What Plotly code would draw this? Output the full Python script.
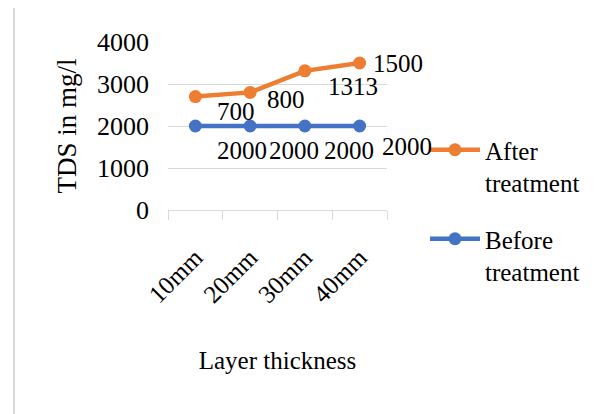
import plotly.graph_objects as go

categories = ["10mm", "20mm", "30mm", "40mm"]
before_values = [2000, 2000, 2000, 2000]
after_added = [700, 800, 1313, 1500]  # stacked on top of "before"
after_totals = [b + a for b, a in zip(before_values, after_added)]
y_ticks = [0, 1000, 2000, 3000, 4000]

ORANGE = "#ED7D31"
BLUE = "#4472C4"
FONT = "Liberation Serif"

# the page body adds an 8px offset, so figure coordinates are shifted by 8
OFF = 8
W, H = 602, 414
L, R, T, B = 168 - OFF, 215 + OFF, 42 - OFF, 204 + OFF
pw, ph = W - L - R, H - T - B

fig = go.Figure()
fig.add_trace(go.Scatter(
    x=categories, y=after_totals, name="After<br>treatment",
    mode="lines+markers", line=dict(color=ORANGE, width=4.5),
    marker=dict(size=13, color=ORANGE), legendgroup="a",
))
fig.add_trace(go.Scatter(
    x=categories, y=before_values, name="Before<br>treatment",
    mode="lines+markers", line=dict(color=BLUE, width=4.5),
    marker=dict(size=13, color=BLUE), legendgroup="b",
))

after_shift = [(41, -15), (36, -7), (48, -16), (38, 0)]
before_shift = [(47, -24), (44, -24), (44, -24), (47, -20)]
for c, y, v, (dx, dy) in zip(categories, after_totals, after_added, after_shift):
    fig.add_annotation(x=c, y=y, text=str(v), showarrow=False, xshift=dx, yshift=dy,
                       font=dict(family=FONT, size=25, color="black"))
for c, y, (dx, dy) in zip(categories, before_values, before_shift):
    fig.add_annotation(x=c, y=y, text=str(y), showarrow=False, xshift=dx, yshift=dy,
                       font=dict(family=FONT, size=25, color="black"))

# outer chart frame (Excel chart area border)
fig.add_shape(type="rect", xref="paper", yref="paper",
              x0=(14 - OFF - L) / pw, x1=(W + 20 - L) / pw,
              y0=-(H + 20 - (T + ph)) / ph, y1=(T + ph - (7 - OFF)) / ph,
              line=dict(color="#D9D9D9", width=2), layer="below")

fig.update_layout(
    width=W, height=H,
    margin=dict(l=L, r=R, t=T, b=B, pad=0, autoexpand=False),
    paper_bgcolor="white", plot_bgcolor="white",
    font=dict(family=FONT, size=25, color="black"),
    showlegend=True,
    legend=dict(x=(425 - OFF - L) / pw, y=(T + ph - (127 - OFF)) / ph,
                xanchor="left", yanchor="top",
                font=dict(family=FONT, size=25, color="black"),
                tracegroupgap=21, traceorder="grouped", valign="top",
                itemwidth=50, bgcolor="rgba(0,0,0,0)"),
    xaxis=dict(
        type="category", range=[-0.5, len(categories) - 0.5], autorange=False,
        automargin=False,
        tickson="boundaries", ticks="outside", ticklen=9,
        tickcolor="#D9D9D9", showline=True, linecolor="#D9D9D9", linewidth=1,
        showgrid=False, tickangle=-45, ticklabelstandoff=22,
        tickfont=dict(family=FONT, size=25, color="black"),
        title=dict(text="Layer thickness", font=dict(family=FONT, size=25, color="black"),
                   standoff=44),
    ),
    yaxis=dict(
        range=[0, 4000], autorange=False, automargin=False,
        tickvals=y_ticks, showgrid=True, gridcolor="#D9D9D9",
        gridwidth=1, zeroline=False, showline=False, ticks="",
        ticklabelstandoff=18,
        tickfont=dict(family=FONT, size=26, color="black"),
        title=dict(text="TDS in mg/l", font=dict(family=FONT, size=27, color="black"),
                   standoff=12),
    ),
)

fig.write_html("out.html")
